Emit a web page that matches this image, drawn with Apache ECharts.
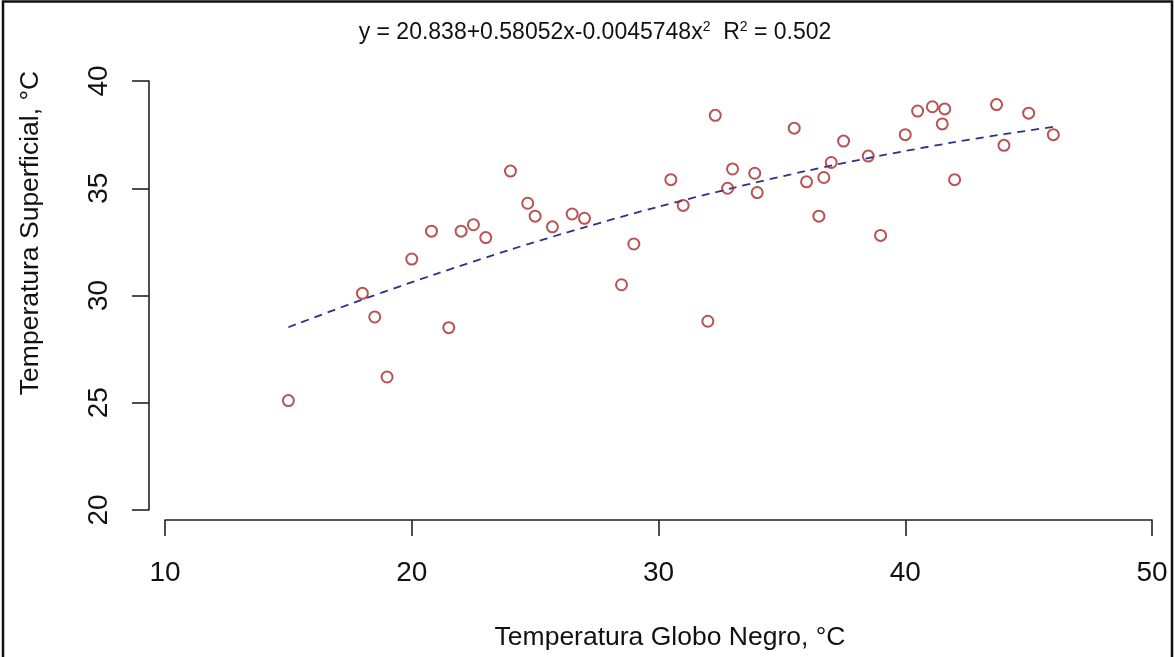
<!DOCTYPE html>
<html>
<head>
<meta charset="utf-8">
<script src="https://cdn.jsdelivr.net/npm/echarts@6/dist/echarts.min.js"></script>
<style>
html,body{margin:0;padding:0;background:#fff;}
#chart{width:1175px;height:657px;}
</style>
</head>
<body>
<div id="chart"></div>
<script>
// Observed data: Temperatura Globo Negro (x) vs Temperatura Superficial (y)
const globoNegro = [15.0, 18.0, 18.5, 19.0, 20.0, 20.8, 21.5, 22.0, 22.5, 23.0, 24.0, 24.7, 25.0, 25.7, 26.5, 27.0, 28.5, 29.0, 30.5, 31.0, 32.0, 32.3, 32.8, 33.0, 33.9, 34.0, 35.5, 36.0, 36.5, 36.7, 37.0, 37.5, 38.5, 39.0, 40.0, 40.5, 41.1, 41.5, 41.6, 42.0, 43.7, 44.0, 45.0, 46.0];
const superficial = [25.1, 30.1, 29.0, 26.2, 31.7, 33.0, 28.5, 33.0, 33.3, 32.7, 35.8, 34.3, 33.7, 33.2, 33.8, 33.6, 30.5, 32.4, 35.4, 34.2, 28.8, 38.4, 35.0, 35.9, 35.7, 34.8, 37.8, 35.3, 33.7, 35.5, 36.2, 37.2, 36.5, 32.8, 37.5, 38.6, 38.8, 38.0, 38.7, 35.4, 38.9, 37.0, 38.5, 37.5];
// Fitted curve
const fitX = [15, 18, 21, 24, 27, 30, 33, 36, 39, 42, 44, 46];
const fitY = [28.52, 29.81, 31.01, 32.14, 33.18, 34.14, 35.01, 35.81, 36.52, 37.15, 37.52, 37.86];
const xTicks = [10, 20, 30, 40, 50];
const yTicks = [20, 25, 30, 35, 40];
const titleText = 'y = 20.838+0.58052x-0.0045748x{sup|2}  R{sup|2} = 0.502';
const xTitle = 'Temperatura Globo Negro, °C';
const yTitle = 'Temperatura Superficial, °C';

const chart = echarts.init(document.getElementById('chart'), null, {renderer: 'canvas'});
const FONT = "'Liberation Sans', Arial, sans-serif";

const option = {
  backgroundColor: '#ffffff',
  animation: false,
  grid: {left: 165, right: 23, top: 81, bottom: 147, containLabel: false},
  xAxis: {
    type: 'value', min: xTicks[0], max: xTicks[xTicks.length - 1], interval: 10,
    offset: 10,
    axisLine: {show: true, lineStyle: {color: '#222', width: 1.6}},
    axisTick: {show: true, length: 16, lineStyle: {color: '#222', width: 1.6}},
    axisLabel: {margin: 39, fontSize: 28, color: '#111', fontFamily: FONT},
    splitLine: {show: false}
  },
  yAxis: {
    type: 'value', min: yTicks[0], max: yTicks[yTicks.length - 1], interval: 5,
    offset: 16,
    axisLine: {show: true, lineStyle: {color: '#222', width: 1.6}},
    axisTick: {show: true, length: 17, lineStyle: {color: '#222', width: 1.6}},
    axisLabel: {margin: 36, fontSize: 28, color: '#111', fontFamily: FONT, rotate: 90},
    splitLine: {show: false}
  },
  series: [
    {
      type: 'scatter',
      data: globoNegro.map((x, i) => [x, superficial[i]]),
      symbol: 'circle', symbolSize: 11,
      itemStyle: {color: 'rgba(0,0,0,0)', borderColor: '#a82828', borderWidth: 2},
      z: 3
    },
    {
      type: 'line',
      data: fitX.map((x, i) => [x, fitY[i]]),
      smooth: 0.3, showSymbol: false, symbol: 'none',
      lineStyle: {color: '#30308c', width: 1.8, type: [8, 6]},
      z: 2
    }
  ],
  graphic: [
    {type: 'rect', shape: {x: 3, y: 1.5, width: 1169, height: 700}, style: {fill: 'none', stroke: '#111', lineWidth: 2.5}, silent: true},
    {type: 'text', x: 595, y: 33, style: {text: titleText, fontSize: 23, fontFamily: FONT, fill: '#111', textAlign: 'center', textVerticalAlign: 'middle',
      rich: {sup: {fontSize: 14, verticalAlign: 'top', fill: '#111', fontFamily: FONT, padding: [0, 0, 11, 0]}}}},
    {type: 'text', x: 670, y: 638, style: {text: xTitle, fontSize: 26.5, fontFamily: FONT, fill: '#111', textAlign: 'center', textVerticalAlign: 'middle'}},
    {type: 'text', x: 31, y: 233, rotation: Math.PI / 2, style: {text: yTitle, fontSize: 26.5, fontFamily: FONT, fill: '#111', textAlign: 'center', textVerticalAlign: 'middle'}}
  ]
};
chart.setOption(option);
</script>
</body>
</html>
